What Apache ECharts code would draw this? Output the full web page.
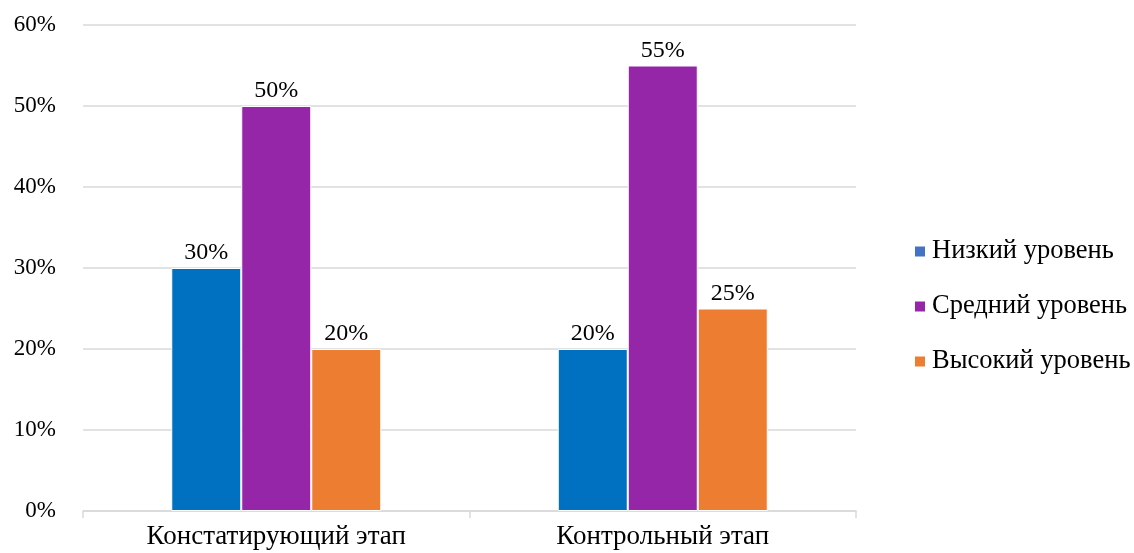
<!DOCTYPE html>
<html>
<head>
<meta charset="utf-8">
<script src="https://cdn.jsdelivr.net/npm/echarts@6/dist/echarts.min.js"></script>
<style>
  html, body { margin: 0; padding: 0; background: #fff; }
  #chart { width: 1134px; height: 553px; }
</style>
</head>
<body>
<div id="chart"></div>
<script>
// Данные диаграммы
var etapy = ['Констатирующий этап', 'Контрольный этап'];
var nizkiy = [30, 20];
var sredniy = [50, 55];
var vysokiy = [20, 25];
var yTicks = [0, 10, 20, 30, 40, 50, 60];

var shrift = '"Liberation Serif", "Times New Roman", serif';

function seriya(name, data, color) {
  return {
    name: name,
    type: 'bar',
    data: data,
    barWidth: 70,
    barGap: '0%',
    itemStyle: { color: color, borderColor: '#fff', borderWidth: 1 },
    label: {
      show: true,
      position: 'top',
      distance: 3,
      formatter: '{c}%',
      fontFamily: shrift,
      fontSize: 24,
      color: '#000'
    }
  };
}

var chart = echarts.init(document.getElementById('chart'));
chart.setOption({
  animation: false,
  textStyle: { fontFamily: shrift },
  grid: { left: 83, right: 278, top: 25, bottom: 42 },
  legend: {
    orient: 'vertical',
    left: 915,
    top: 238,
    padding: 0,
    itemWidth: 10,
    itemHeight: 10,
    itemGap: 28,
    icon: 'rect',
    textStyle: { fontFamily: shrift, fontSize: 26.5, color: '#000', padding: [0, 0, 0, 2] },
    data: [
      { name: 'Низкий уровень', itemStyle: { color: '#4472C4', borderWidth: 0 } },
      { name: 'Средний уровень', itemStyle: { color: '#9526A8', borderWidth: 0 } },
      { name: 'Высокий уровень', itemStyle: { color: '#ED7D31', borderWidth: 0 } }
    ]
  },
  xAxis: {
    type: 'category',
    data: etapy,
    axisLine: { lineStyle: { color: '#D9D9D9', width: 1.5 } },
    axisTick: { show: true, length: 7, lineStyle: { color: '#D9D9D9', width: 1.5 } },
    axisLabel: { fontFamily: shrift, fontSize: 27, color: '#000', margin: 12 }
  },
  yAxis: {
    type: 'value',
    min: yTicks[0],
    max: yTicks[yTicks.length - 1],
    interval: 10,
    axisLine: { show: false },
    axisTick: { show: false },
    splitLine: { lineStyle: { color: '#D9D9D9', width: 1.5 } },
    axisLabel: { formatter: '{value}%', fontFamily: shrift, fontSize: 23, color: '#000', margin: 27 }
  },
  series: [
    seriya('Низкий уровень', nizkiy, '#0070C0'),
    seriya('Средний уровень', sredniy, '#9526A8'),
    seriya('Высокий уровень', vysokiy, '#ED7D31')
  ]
});
</script>
</body>
</html>
